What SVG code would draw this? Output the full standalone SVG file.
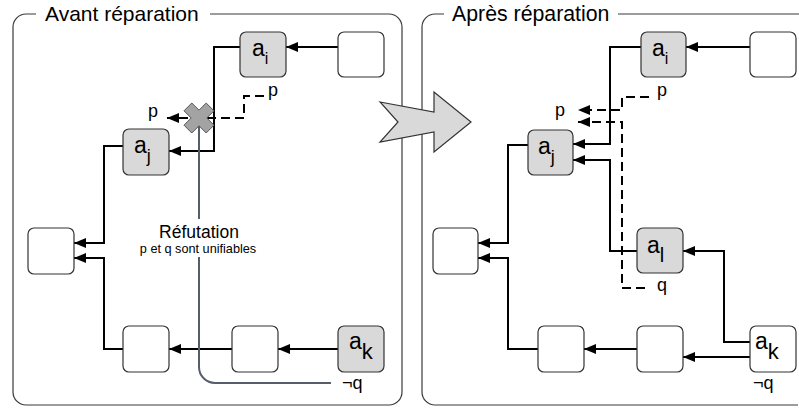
<svg xmlns="http://www.w3.org/2000/svg" width="799" height="409" viewBox="0 0 799 409">
<style>
text{font-family:"Liberation Sans",Arial,Helvetica,sans-serif;fill:#000}
.frame{fill:none;stroke:#3a3a3a;stroke-width:1.2}
.box{stroke:#333;stroke-width:1.2}
.w{fill:#fff}
.g{fill:#d9d9d9}
.c{fill:none;stroke:#000;stroke-width:2;marker-end:url(#ah)}
.d{fill:none;stroke:#000;stroke-width:2;stroke-dasharray:9,5;marker-end:url(#ah)}
.lbl{font-size:23px}
.t{font-size:18px}
</style>
<defs>
<marker id="ah" markerUnits="userSpaceOnUse" markerWidth="12" markerHeight="10" refX="12" refY="5" orient="auto">
<path d="M0,0 L12,5 L0,10 z" fill="#000"/>
</marker>
</defs>
<rect width="799" height="409" fill="#fff"/>
<g id="frames">
<path class="frame" d="M36,14 H26 A13,13 0 0 0 13,27 V392 A13,13 0 0 0 26,405 H389 A13,13 0 0 0 402,392 V27 A13,13 0 0 0 389,14 H210"/>
<path class="frame" d="M444,14 H435 A13,13 0 0 0 422,27 V392 A13,13 0 0 0 435,405 H798 M618,14 H810"/>
<text x="45" y="21" font-size="21">Avant réparation</text>
<text x="452" y="21" font-size="21.3">Après réparation</text>
</g>
<g id="connectors">
<path class="c" d="M338,47 H286"/>
<path class="c" d="M240,47 H214 V151 H169"/>
<path class="c" d="M123,146 H104 V243 H74"/>
<path class="c" d="M123,349 H104 V258 H74"/>
<path class="c" d="M232,349 H169"/>
<path class="c" d="M338,349 H278"/>
<path class="d" d="M264,96 H244 V118 H167"/>
<path fill="none" stroke="#585d6b" stroke-width="2" d="M199,118 V367 A16,16 0 0 0 215,383 H331"/>
<path class="c" d="M750,47 H686"/>
<path class="c" d="M641,47 H610 V144 H573"/>
<path class="c" d="M637,251 H610 V160 H573"/>
<path class="c" d="M528,145 H508 V243 H478"/>
<path class="c" d="M538,349 H508 V258 H478"/>
<path class="c" d="M637,349 H584"/>
<path class="c" d="M750,357 H683"/>
<path class="c" d="M750,342 H724 V251 H683"/>
<path class="d" d="M649,97 H622 V110 H578"/>
<path class="d" d="M645,288 H622 V122 H578"/>
</g>
<g id="cross">
<polygon points="199,110.2 206.2,103 214,110.8 206.8,118 214,125.2 206.2,133 199,125.8 191.8,133 184,125.2 191.2,118 184,110.8 191.8,103" fill="#a3a3a3" stroke="#555" stroke-width="1"/>
</g>
<g id="refutation">
<rect x="136" y="219" width="124" height="38" fill="#fff"/>
<text x="199" y="238" font-size="17.5" text-anchor="middle">Réfutation</text>
<text x="198" y="253" font-size="12.7" text-anchor="middle">p et q sont unifiables</text>
</g>
<g id="labels">
<text class="t" x="148" y="117">p</text>
<text class="t" x="268" y="96">p</text>
<text class="t" x="342" y="389">¬q</text>
<text class="t" x="555" y="116">p</text>
<text class="t" x="657" y="96">p</text>
<text class="t" x="657" y="291">q</text>
<text class="t" x="753" y="389">¬q</text>
</g>
<g id="L-ai"><rect class="box g" x="240" y="32" width="46" height="45" rx="6"/><text class="lbl" x="252" y="56">a<tspan font-size="16" dy="8">i</tspan></text></g>
<g id="L-top"><rect class="box w" x="338" y="32" width="46" height="45" rx="6"/></g>
<g id="L-aj"><rect class="box g" x="123" y="129" width="46" height="46" rx="6"/><text class="lbl" x="134" y="153">a<tspan font-size="18" dy="9">j</tspan></text></g>
<g id="L-left"><rect class="box w" x="28" y="228" width="46" height="46" rx="6"/></g>
<g id="L-b1"><rect class="box w" x="123" y="326" width="46" height="46" rx="6"/></g>
<g id="L-b2"><rect class="box w" x="232" y="326" width="46" height="46" rx="6"/></g>
<g id="L-ak"><rect class="box g" x="338" y="326" width="46" height="46" rx="6"/><text class="lbl" x="349" y="349">a<tspan font-size="22" dy="10">k</tspan></text></g>
<g id="R-ai"><rect class="box g" x="641" y="32" width="45" height="45" rx="6"/><text class="lbl" x="652" y="56">a<tspan font-size="16" dy="8">i</tspan></text></g>
<g id="R-top"><rect class="box w" x="750" y="32" width="46" height="45" rx="6"/></g>
<g id="R-aj"><rect class="box g" x="528" y="130" width="45" height="45" rx="6"/><text class="lbl" x="538" y="154">a<tspan font-size="18" dy="9">j</tspan></text></g>
<g id="R-left"><rect class="box w" x="433" y="228" width="45" height="46" rx="6"/></g>
<g id="R-al"><rect class="box g" x="637" y="228" width="46" height="45" rx="6"/><text class="lbl" x="647" y="253">a<tspan font-size="20" dy="9">l</tspan></text></g>
<g id="R-b1"><rect class="box w" x="538" y="326" width="46" height="46" rx="6"/></g>
<g id="R-b2"><rect class="box w" x="637" y="326" width="46" height="46" rx="6"/></g>
<g id="R-ak"><rect class="box w" x="750" y="326" width="46" height="46" rx="6"/><text class="lbl" x="755" y="349">a<tspan font-size="22" dy="10">k</tspan></text></g>
<g id="bigarrow">
<polygon points="380,102 434,112 434,92 471,122 434,152 434,132 380,142 398,122" fill="#d9d9d9" stroke="#333" stroke-width="1.2" stroke-linejoin="miter"/>
</g>
</svg>
